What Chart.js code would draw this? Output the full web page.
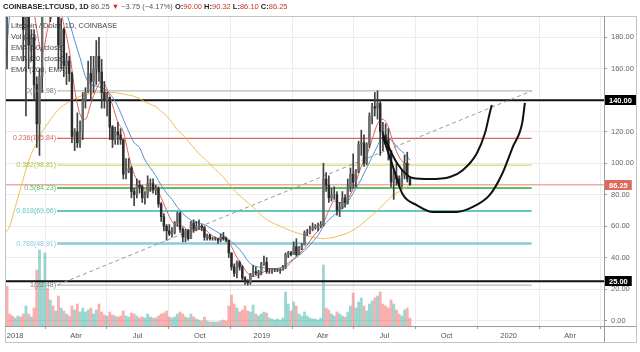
<!DOCTYPE html>
<html>
<head>
<meta charset="utf-8">
<script src="https://cdn.jsdelivr.net/npm/chart.js@4.4.1/dist/chart.umd.min.js"></script>
<style>
    html, body { margin: 0; padding: 0; background: #fff; }
    #wrap { width: 640px; height: 352px; }
</style>
</head>
<body>
<div id="wrap"><canvas id="ltcChart" width="640" height="352"></canvas></div>
<script>
(function () {
    'use strict';

    // day 0 = 1 Jan 2018, candles grouped by 4 days from 16 Dec 2017
    var candleStartDay = -16;
    var candleStepDays = 4;
    var firstOpen = 300;

    var closes = [
        330, 275, 265, 232, 245, 250, 232, 185, 200, 175,
        180, 150, 125, 155, 210, 230, 205, 210, 205, 210,
        175, 185, 162, 165, 157, 117, 120, 113, 120, 140,
        145, 157, 152, 160, 168, 158, 145, 140, 142, 123,
        115, 120, 118, 115, 93, 95, 97, 82, 80, 86,
        85, 78, 80, 87, 87, 83, 84, 74, 66, 60,
        57, 55, 56, 62, 68, 58, 53, 57, 52, 62,
        58, 60, 60, 59, 53, 54, 52, 52, 52, 51,
        53, 52, 51, 43, 34, 30, 37, 34, 27, 25,
        24, 29, 31, 30, 31, 36, 37, 31, 31, 32,
        32, 32, 32, 34, 42, 43, 42, 47, 42, 46,
        48, 56, 56, 58, 59, 60, 60, 61, 90, 86,
        78, 80, 80, 70, 72, 78, 75, 85, 93, 88,
        95, 112, 113, 100, 112, 130, 136, 135, 138, 120,
        118, 115, 108, 88, 92, 90, 86, 92, 100, 90,
        86.25
    ];
    var highs = [
        375, 335, 290, 265, 260, 300, 255, 250, 210, 205,
        185, 185, 155, 160, 215, 235, 250, 220, 225, 220,
        212, 192, 186, 170, 168, 158, 122, 132, 127, 145,
        148, 165, 168, 168, 178, 180, 166, 152, 145, 142,
        124, 123, 126, 122, 115, 103, 103, 98, 84, 90,
        89, 86, 82, 92, 90, 90, 86, 85, 75, 68,
        61, 61, 59, 63, 69, 69, 59, 58, 58, 63,
        64, 63, 64, 61, 60, 55, 55, 53, 53, 52,
        55, 56, 53, 51, 43, 36, 38, 38, 35, 28,
        26, 30, 35, 34, 32, 37, 41, 40, 33, 33,
        33, 33, 33, 35, 43, 44, 44, 50, 52, 47,
        49, 57, 58, 60, 62, 61, 62, 63, 100, 94,
        92, 84, 85, 82, 75, 82, 80, 90, 97, 106,
        96, 114, 121, 118, 113, 132, 138, 145, 146, 140,
        126, 125, 122, 108, 95, 100, 92, 96, 105, 107,
        90.32
    ];
    var lows = [
        290, 160, 245, 210, 225, 240, 215, 165, 130, 160,
        165, 140, 110, 105, 145, 200, 195, 190, 195, 200,
        160, 160, 155, 150, 152, 113, 108, 110, 110, 115,
        135, 145, 140, 145, 150, 152, 135, 135, 130, 115,
        110, 112, 112, 112, 90, 90, 94, 78, 73, 78,
        81, 75, 74, 78, 82, 81, 80, 72, 63, 57,
        51, 54, 53, 55, 60, 56, 50, 50, 51, 52,
        56, 57, 58, 57, 51, 51, 51, 51, 51, 49,
        50, 51, 50, 40, 32, 28, 27, 32, 26, 23,
        22.5, 23, 28, 29, 27, 29, 35, 30, 30, 30,
        31, 31, 30, 32, 33, 40, 41, 42, 41, 42,
        45, 48, 54, 55, 57, 58, 57, 59, 60, 82,
        75, 76, 77, 67, 66, 71, 72, 74, 82, 84,
        85, 94, 105, 98, 99, 110, 125, 130, 128, 105,
        108, 112, 102, 85, 77, 86, 85, 85, 90, 88,
        86.10
    ];
    // thousands of LTC per day
    var volumes = [
        1320, 800, 240, 200, 160, 200, 180, 240, 400, 240,
        180, 360, 1120, 1520, 900, 1460, 760, 520, 400, 300,
        600, 360, 300, 240, 200, 400, 320, 440, 280, 360,
        280, 320, 360, 240, 320, 440, 280, 220, 200, 280,
        220, 200, 180, 200, 300, 200, 180, 260, 240, 200,
        160, 180, 160, 240, 180, 160, 160, 200, 240, 260,
        300, 180, 160, 180, 240, 280, 240, 180, 160, 240,
        180, 140, 120, 100, 180, 100, 80, 80, 80, 80,
        100, 120, 100, 400, 620, 440, 360, 280, 320, 400,
        300, 280, 420, 240, 200, 240, 280, 260, 160, 140,
        120, 140, 120, 160, 680, 440, 300, 480, 400, 240,
        200, 280, 200, 160, 140, 140, 120, 160, 1220, 360,
        320, 240, 200, 280, 240, 200, 180, 280, 400, 660,
        360, 480, 560, 400, 300, 440, 500, 560, 600, 680,
        440, 400, 360, 520, 440, 320, 240, 200, 320, 360,
        160
    ];

    // EMA readings every 8 days from the same start day
    var emaStepDays = 8;
    var ema50 = [
        150, 195, 215, 225, 228, 225, 215, 205, 205, 205,
        205, 200, 190, 178, 167, 155, 150, 149, 148, 146,
        142, 136, 128, 120, 113, 110, 102, 97, 92, 86,
        81, 77, 72, 68, 65, 63, 62, 61, 59, 57,
        55, 53, 50, 47, 43, 38, 35, 34, 33.5, 33,
        33, 33.5, 35, 38, 40, 43, 46, 50, 54, 60,
        64, 67, 70, 73, 78, 84, 90, 97, 104, 111,
        117, 116, 113, 109, 106, 102
    ];
    var ema20 = [
        235, 270, 262, 258, 235, 210, 185, 170, 185, 195,
        200, 188, 172, 147, 131, 128, 138, 147, 152, 147,
        137, 126, 120, 105, 93, 87, 83, 83, 84, 78,
        70, 63, 60, 60, 57, 57, 58, 58, 55, 53,
        52, 52, 47, 40, 35, 30, 28, 29, 31, 33,
        32.5, 32, 33.5, 37, 41, 44, 48, 53, 57, 62,
        70, 76, 75, 75, 80, 88, 98, 105, 115, 125,
        128, 123, 112, 104, 100, 99
    ];
    var ema200 = [
        55, 60, 72, 84, 96, 106, 113, 120, 125, 130,
        134, 137, 139, 141, 142.5, 143.5, 144.3, 144.8, 145, 145,
        145, 144.6, 144, 143.3, 142.5, 141, 139, 137.5, 136, 133,
        130, 126, 121, 118, 114, 110, 106, 103, 99.5, 96,
        93, 89, 85, 81, 78, 75, 72, 68.5, 65.5, 63,
        61.5, 60, 58.5, 57, 55.8, 54.8, 53.8, 53, 52.4, 52,
        52.3, 53, 54, 55, 56.5, 58.5, 61, 64, 67, 70,
        73.5, 77, 80, 82, 84, 86
    ];

    var tickDays = [0, 90, 181, 273, 365, 455, 546, 638, 730, 821];
    var tickLabels = ['2018', 'Abr', 'Jul', 'Oct', '2019', 'Abr', 'Jul', 'Oct', '2020', 'Abr'];
    var priceTicks = [0, 20, 40, 60, 80, 100, 120, 140, 160, 180];

    var fibRatios = ['0', '0.236', '0.382', '0.5', '0.618', '0.786', '1'];
    var fibPrices = [145.98, 115.84, 98.81, 84.23, 69.66, 48.91, 22.48];
    var fibColors = ['#a8a8a8', '#d9675f', '#d3dc72', '#5cbf62', '#66c7bb', '#8cc8dc', '#a8a8a8'];
    var fibWidths = [1, 1.2, 1.2, 2, 2, 2.5, 1];
    var fibStartDay = 62;
    var fibEndDay = 764;

    var levelPrices = [140, 25];
    var lastPrice = 86.25;

    var cupInnerDays = [544, 565, 588, 613, 643, 662, 683, 695, 702, 705];
    var cupInnerPrices = [118, 100, 90.6, 89.9, 91.2, 95.6, 106.4, 119.2, 131.9, 137];
    var cupOuterDays = [544, 559, 573, 594, 618, 653, 677, 702, 721, 736, 750, 754];
    var cupOuterPrices = [116.7, 97.6, 80.4, 73.4, 69, 69, 72.2, 79.8, 93.8, 110.3, 125.6, 138.3];

    var dayMin = -15;
    var dayMax = 871;
    var fontFamily = '"Liberation Sans", Arial, sans-serif';

    var upColor = '#6b6b6b';
    var downColor = '#2b2b2b';
    var volUp = 'rgba(38,166,154,0.45)';
    var volDown = 'rgba(239,83,80,0.45)';

    var wickData = [];
    var bodyData = [];
    var bodyColors = [];
    var volumeData = [];
    var volumeColors = [];

    closes.forEach(function (close, i) {
        var day = candleStartDay + i * candleStepDays;
        var open = i === 0 ? firstOpen : closes[i - 1];
        var up = close >= open;
        wickData.push({ x: day, y: [lows[i], highs[i]] });
        bodyData.push({ x: day, y: [open, close] });
        bodyColors.push(up ? upColor : downColor);
        volumeData.push({ x: day, y: volumes[i] });
        volumeColors.push(up ? volUp : volDown);
    });

    function emaPoints(values) {
        return values.map(function (v, k) {
            return { x: candleStartDay + k * emaStepDays, y: v };
        });
    }

    function pairPoints(days, prices) {
        return days.map(function (d, i) {
            return { x: d, y: prices[i] };
        });
    }

    function hLine(price, x0, x1, color, width, order, dash) {
        return {
            type: 'line',
            data: [{ x: x0, y: price }, { x: x1, y: price }],
            borderColor: color,
            borderWidth: width,
            borderDash: dash || [],
            pointRadius: 0,
            yAxisID: 'y',
            order: order
        };
    }

    function lineSet(points, color, width, order, smooth) {
        return {
            type: 'line',
            data: points,
            borderColor: color,
            borderWidth: width,
            pointRadius: 0,
            cubicInterpolationMode: smooth ? 'monotone' : 'default',
            tension: smooth ? 0.4 : 0,
            yAxisID: 'y',
            order: order
        };
    }

    var datasets = [];

    datasets.push(lineSet(pairPoints(cupInnerDays, cupInnerPrices), '#111', 2, 0, true));
    datasets.push(lineSet(pairPoints(cupOuterDays, cupOuterPrices), '#111', 2, 0, true));

    datasets.push({
        type: 'bar',
        data: bodyData,
        backgroundColor: bodyColors,
        barThickness: 1.8,
        grouped: false,
        yAxisID: 'y',
        order: 1
    });
    datasets.push({
        type: 'bar',
        data: wickData,
        backgroundColor: '#404040',
        barThickness: 1,
        grouped: false,
        yAxisID: 'y',
        order: 2
    });

    datasets.push(lineSet(emaPoints(ema20), '#e0605a', 1, 3, true));
    datasets.push(lineSet(emaPoints(ema50), '#4f93cc', 1, 3, true));
    datasets.push(lineSet(emaPoints(ema200), 'rgba(240,185,80,0.95)', 1, 3, true));

    datasets.push({
        type: 'line',
        data: [{ x: fibStartDay, y: fibPrices[6] }, { x: fibEndDay, y: fibPrices[0] }],
        borderColor: '#9a9a9a',
        borderWidth: 1,
        borderDash: [4, 3],
        pointRadius: 0,
        yAxisID: 'y',
        order: 4
    });

    levelPrices.forEach(function (p) {
        datasets.push(hLine(p, dayMin, dayMax, '#111', 2, 5));
    });

    fibPrices.forEach(function (p, i) {
        datasets.push(hLine(p, fibStartDay, fibEndDay, fibColors[i], fibWidths[i], 6));
    });

    datasets.push(hLine(lastPrice, dayMin, dayMax, 'rgba(226,110,100,0.85)', 1, 7));

    datasets.push({
        type: 'bar',
        data: volumeData,
        backgroundColor: volumeColors,
        barThickness: 2.2,
        grouped: false,
        yAxisID: 'yv',
        order: 9
    });

    function drawRuns(ctx, x, y, runs) {
        runs.forEach(function (r) {
            ctx.font = (r.b ? 'bold ' : '') + '7.5px ' + fontFamily;
            ctx.fillStyle = r.c;
            ctx.fillText(r.t, x, y);
            x += ctx.measureText(r.t).width;
        });
    }

    function axisBox(ctx, y, bg, text) {
        ctx.font = 'bold 7.5px ' + fontFamily;
        var w = ctx.measureText(text).width + 8;
        ctx.fillStyle = bg;
        ctx.fillRect(605, Math.round(y) - 5, w, 10);
        ctx.fillStyle = '#fff';
        ctx.textAlign = 'left';
        ctx.textBaseline = 'middle';
        ctx.fillText(text, 609, Math.round(y) + 0.5);
    }

    var overlayPlugin = {
        id: 'overlay',
        afterDatasetsDraw: function (chart) {
            var ctx = chart.ctx;
            var xs = chart.scales.x;
            var ys = chart.scales.y;
            ctx.save();
            ctx.font = '7px ' + fontFamily;
            ctx.textAlign = 'right';
            ctx.textBaseline = 'middle';
            fibPrices.forEach(function (p, i) {
                ctx.fillStyle = fibColors[i] === '#a8a8a8' ? '#7a7a7a' : fibColors[i];
                if (i === 2) { ctx.fillStyle = '#b5bf3c'; }
                ctx.fillText(fibRatios[i] + '(' + p.toFixed(2) + ')', xs.getPixelForValue(fibStartDay) - 1, ys.getPixelForValue(p));
            });
            ctx.restore();
        },
        afterDraw: function (chart) {
            var ctx = chart.ctx;
            var area = chart.chartArea;
            var ys = chart.scales.y;
            ctx.save();

            // frame and axis lines
            ctx.strokeStyle = '#c4c4c4';
            ctx.lineWidth = 1;
            ctx.strokeRect(area.left + 0.5, area.top + 0.5, 636 - area.left, 342 - area.top);
            ctx.strokeStyle = '#9a9a9a';
            ctx.beginPath();
            ctx.moveTo(area.left, area.bottom + 0.5);
            ctx.lineTo(636, area.bottom + 0.5);
            ctx.moveTo(area.right + 0.5, area.top);
            ctx.lineTo(area.right + 0.5, 342);
            ctx.stroke();

            // header
            ctx.textAlign = 'left';
            ctx.textBaseline = 'middle';
            var red = '#c0392b';
            drawRuns(ctx, 3, 7, [
                { t: 'COINBASE:LTCUSD, 1D ', c: '#222', b: true },
                { t: '86.25 ', c: '#555' },
                { t: '\u25BC ', c: '#d32f2f' },
                { t: '\u22123.75 (\u22124.17%) ', c: '#555' },
                { t: 'O:', c: '#222', b: true }, { t: '90.00 ', c: red },
                { t: 'H:', c: '#222', b: true }, { t: '90.32 ', c: red },
                { t: 'L:', c: '#222', b: true }, { t: '86.10 ', c: red },
                { t: 'C:', c: '#222', b: true }, { t: '86.25', c: red }
            ]);

            // study legend
            var legendLines = ['Litecoin / Dolar, 1D, COINBASE', 'Vol (20)', 'EMA (50, close)', 'EMA (20, close)', 'EMA (200, EMA)'];
            ctx.font = '7.5px ' + fontFamily;
            ctx.fillStyle = 'rgba(50,50,50,0.9)';
            legendLines.forEach(function (t, i) {
                ctx.fillText(t, area.left + 6, area.top + 10 + i * 11);
            });

            // price labels on the axis
            axisBox(ctx, ys.getPixelForValue(levelPrices[0]), '#000', '140.00');
            axisBox(ctx, ys.getPixelForValue(levelPrices[1]), '#000', '25.00');
            axisBox(ctx, ys.getPixelForValue(lastPrice), '#e0685c', lastPrice.toFixed(2));

            ctx.restore();
        }
    };

    Chart.defaults.font.family = fontFamily;

    new Chart(document.getElementById('ltcChart'), {
        type: 'bar',
        data: { datasets: datasets },
        plugins: [overlayPlugin],
        options: {
            responsive: false,
            animation: false,
            devicePixelRatio: 1,
            events: [],
            layout: { padding: { left: 5, top: 16, right: 4, bottom: 10 } },
            plugins: {
                legend: { display: false },
                tooltip: { enabled: false }
            },
            scales: {
                x: {
                    type: 'linear',
                    min: dayMin,
                    max: dayMax,
                    offset: false,
                    afterBuildTicks: function (scale) {
                        scale.ticks = tickDays.map(function (d) { return { value: d }; });
                    },
                    afterFit: function (scale) { scale.height = 16; },
                    ticks: {
                        autoSkip: false,
                        maxRotation: 0,
                        padding: 2,
                        color: '#555',
                        font: { size: 7.5 },
                        callback: function (v) {
                            var i = tickDays.indexOf(v);
                            return i >= 0 ? tickLabels[i] : '';
                        }
                    },
                    grid: { color: '#ececec', tickLength: 3, tickColor: '#999' },
                    border: { color: '#9a9a9a' }
                },
                y: {
                    type: 'linear',
                    position: 'right',
                    min: -3.5,
                    max: 193.6,
                    afterBuildTicks: function (scale) {
                        scale.ticks = priceTicks.map(function (p) { return { value: p }; });
                    },
                    afterFit: function (scale) { scale.width = 32; },
                    ticks: {
                        padding: 4,
                        color: '#666',
                        font: { size: 7.5 },
                        callback: function (v) { return Number(v).toFixed(2); }
                    },
                    grid: { color: '#ececec', tickLength: 3, tickColor: '#999' },
                    border: { color: '#9a9a9a' }
                },
                yv: {
                    type: 'linear',
                    display: false,
                    min: 0,
                    max: 6200,
                    grid: { display: false }
                }
            }
        }
    });
})();
</script>
</body>
</html>
